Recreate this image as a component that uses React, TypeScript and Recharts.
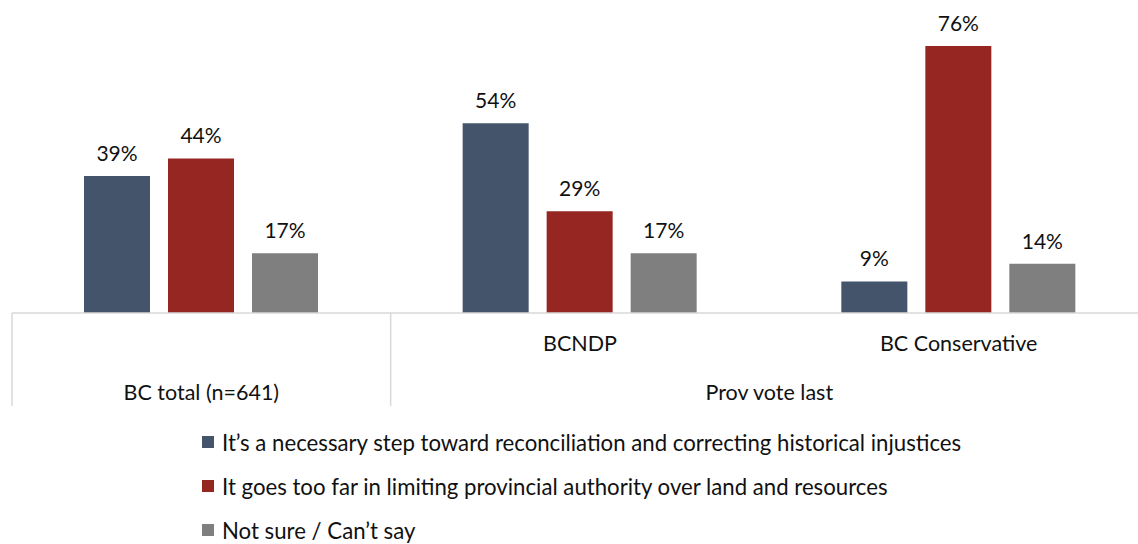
import { BarChart, Bar, XAxis, YAxis, Legend, LabelList } from "recharts"

const categories = ["BC total (n=641)", "BCNDP", "BC Conservative"]
const tickLabels = ["", "BCNDP", "BC Conservative"]
const groupLabels = ["BC total (n=641)", "Prov vote last", ""]

const necessary = [39, 54, 9]
const tooFar = [44, 29, 76]
const notSure = [17, 17, 14]

const seriesNames = [
  "It\u2019s a necessary step toward reconciliation and correcting historical injustices",
  "It goes too far in limiting provincial authority over land and resources",
  "Not sure / Can\u2019t say",
]
const seriesColors = ["#44546A", "#952622", "#7F7F7F"]

const data = categories.map((name, i) => ({
  name,
  tick: tickLabels[i],
  group: groupLabels[i],
  necessary: necessary[i],
  tooFar: tooFar[i],
  notSure: notSure[i],
}))

const FONT = "Lato, 'Open Sans', sans-serif"
const TEXT = "#111"

// two-level category axis: row 1 = party, row 2 = group, plus separators
const CategoryTick = (props: any) => {
  const { x, y, payload, index } = props
  const half = payload.offset || 189
  const row = data[index]
  return (
    <g>
      {index < 2 && (
        <line x1={x - half} x2={x - half} y1={y - 8} y2={y + 85} stroke="#D9D9D9" strokeWidth={1.5} />
      )}
      {row.tick && (
        <text x={x} y={y + 30} textAnchor="middle" fontSize={21.5} fill={TEXT} fontFamily={FONT}>
          {row.tick}
        </text>
      )}
      {index === 0 && (
        <text x={x} y={y + 79} textAnchor="middle" fontSize={21.5} fill={TEXT} fontFamily={FONT}>
          {row.group}
        </text>
      )}
      {index === 1 && (
        <text x={x + half} y={y + 79} textAnchor="middle" fontSize={21.5} fill={TEXT} fontFamily={FONT}>
          {row.group}
        </text>
      )}
    </g>
  )
}

const LegendContent = () => (
  <div style={{ fontFamily: FONT, fontSize: 22.2, color: TEXT }}>
    {seriesNames.map((name, i) => (
      <div key={name} style={{ display: "flex", alignItems: "center", height: 44 }}>
        <span style={{ width: 12, height: 12, background: seriesColors[i], marginRight: 8, display: "inline-block" }} />
        <span>{name}</span>
      </div>
    ))}
  </div>
)

export default function App() {
  return (
    <div style={{ position: "absolute", left: 0, top: 0, width: 1138, height: 544, overflow: "hidden", background: "#fff" }}>
      <BarChart
        width={1148}
        height={544}
        data={data}
        margin={{ top: 32, right: 0, left: 12, bottom: 0 }}
        barSize={66}
        barGap={18}
      >
        <XAxis
          dataKey="name"
          tickLine={false}
          axisLine={{ stroke: "#D9D9D9", strokeWidth: 1.5 }}
          tick={<CategoryTick />}
          interval={0}
          height={93}
        />
        <YAxis hide domain={[0, 80]} />
        <Legend
          content={<LegendContent />}
          wrapperStyle={{ position: "absolute", left: 202, top: 420, width: 920, height: 138 }}
        />
        {["necessary", "tooFar", "notSure"].map((key, i) => (
          <Bar key={key} dataKey={key} name={seriesNames[i]} fill={seriesColors[i]} isAnimationActive={false}>
            <LabelList
              dataKey={key}
              position="top"
              offset={15}
              formatter={(v: any) => `${v}%`}
              style={{ fontFamily: FONT, fontSize: 21, fill: TEXT }}
            />
          </Bar>
        ))}
      </BarChart>
    </div>
  )
}
